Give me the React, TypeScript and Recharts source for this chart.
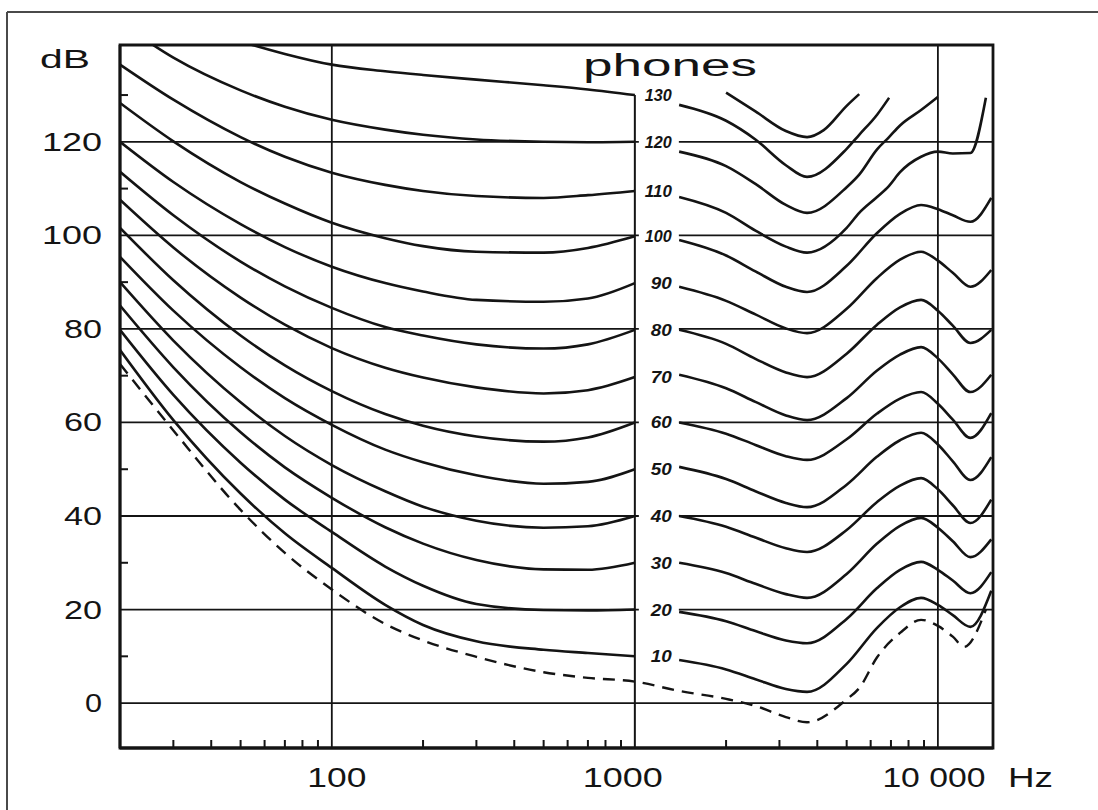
import React from "react";
import {
  LineChart,
  Line,
  XAxis,
  YAxis,
  CartesianGrid,
  ReferenceLine,
  ReferenceArea,
  LabelList,
} from "recharts";

const INK = "#141414";
const FONT = "'Liberation Sans', Arial, sans-serif";

// axes
const X_DOMAIN = [20, 15200];
const Y_DOMAIN = [-9.6, 140.7];
const X_TICKS = [
  30, 40, 50, 60, 70, 80, 90, 100, 200, 300, 400, 500, 600, 700, 800, 900, 1000,
  2000, 3000, 4000, 5000, 6000, 7000, 8000, 9000, 10000,
];
const X_LABELS: Record<number, string> = { 100: "100", 1000: "1000", 10000: "10 000" };
const Y_TICKS = [0, 10, 20, 30, 40, 50, 60, 70, 80, 90, 100, 110, 120, 130];
const GRID_DB = [0, 20, 40, 60, 80, 100, 120];
const GRID_HZ = [100, 10000];

// equal loudness contours, left part (20 Hz .. 1 kHz)
const LOW_FREQS = [20, 30, 50, 70, 100, 150, 200, 300, 500, 700, 1000];
const PHONS = [130, 120, 110, 100, 90, 80, 70, 60, 50, 40, 30, 20, 10];

const LOW_130 = [151.5, 147, 141.5, 138.8, 136.5, 135.1, 134.3, 133.3, 132.1, 131.2, 130];
const LOW_120 = [145.5, 138, 131, 127.5, 124.7, 122.6, 121.5, 120.5, 120, 119.9, 120];
const LOW_110 = [136.5, 129, 121, 116.8, 113.4, 110.8, 109.5, 108.4, 108, 108.6, 109.5];
const LOW_100 = [128.3, 120.1, 111.4, 106.8, 102.7, 99.4, 97.7, 96.5, 96.3, 97.3, 99.8];
const LOW_90 = [120, 111.4, 102.4, 97.5, 93.3, 89.8, 88, 86.2, 85.8, 86.5, 89.8];
const LOW_80 = [113.6, 104.3, 94.4, 89.1, 84.5, 80.4, 78.6, 76.7, 75.8, 76.7, 79.8];
const LOW_70 = [107.6, 97.4, 86.7, 80.9, 75.9, 71.7, 69.6, 67.5, 66.2, 66.9, 69.7];
const LOW_60 = [101.6, 90.4, 78.6, 72.2, 66.7, 61.8, 59.3, 57, 55.9, 56.8, 60];
const LOW_50 = [95.4, 83.9, 71.8, 65.2, 59.5, 54.2, 51.5, 48.7, 46.9, 47.3, 50];
const LOW_40 = [90, 77.5, 64.3, 57.1, 50.9, 45.3, 42, 39, 37.5, 37.8, 40];
const LOW_30 = [85, 71.8, 57.9, 50.4, 43.9, 37.6, 34.1, 30.6, 28.6, 28.5, 30];
const LOW_20 = [79.8, 65.9, 51.4, 43.5, 36.6, 29.2, 25.1, 21.2, 19.9, 19.8, 20];
const LOW_10 = [75.5, 60.5, 44.8, 36.3, 28.9, 21, 16.7, 13.2, 11.4, 10.7, 10];

// right part (1.4 kHz .. 15 kHz), after the phon labels
const HIGH_FREQS = [
  1400, 2000, 2500, 3150, 3700, 5000, 5500, 6300, 6900, 7500, 8800, 10000, 11200, 12800, 14400, 15000,
];
const HIGH_130 = [127.9, 124.5, 120.5, 115, 112.5, 118.5, 121.5, 125.8, 129.4, null, null, null, null, null, null, null];
const HIGH_120 = [117.9, 114.8, 111, 106.5, 104.8, 110.3, 113, 118.4, 121, 123.5, 126.8, 129.6, null, null, null, null];
const HIGH_110 = [108.2, 104.8, 101, 97.6, 96.3, 101.6, 104.8, 108.2, 110.6, 113.5, 116.8, 117.9, 117.5, 117.6, 129.4, null];
const HIGH_100 = [99, 95.7, 92.3, 89, 87.9, 93.5, null, 100.5, null, 104.6, 106.5, 105.6, 104.3, 102.9, null, 108];
const HIGH_90 = [89, 86, 83.1, 80.1, 79.1, 84.3, null, 90.9, null, 94.8, 96.5, 94.6, 92, 89, null, 92.6];
const HIGH_80 = [79.8, 76.8, 73.6, 70.7, 69.7, 74.7, null, 80.9, null, 84.6, 86.2, 83.9, 80.7, 77, null, 79.8];
const HIGH_70 = [70.2, 67.3, 64.4, 61.5, 60.5, 65.2, null, 71.1, null, 74.5, 76.1, 73.7, 70.3, 66.5, null, 70.2];
const HIGH_60 = [60, 57.6, 55.2, 52.8, 52, 56.4, null, 61.9, null, 65.1, 66.5, 64, 60.6, 56.7, null, 62];
const HIGH_50 = [50.5, 47.9, 45.3, 42.8, 41.9, 46.7, null, 52.7, null, 56.2, 57.8, 55.3, 51.7, 47.7, null, 52.6];
const HIGH_40 = [40, 37.7, 35.4, 33.1, 32.3, 37, null, 43, null, 46.5, 48.1, 45.7, 42.3, 38.5, null, 43.5];
const HIGH_30 = [30, 27.8, 25.5, 23.3, 22.5, 27.6, null, 34.1, null, 37.9, 39.6, 37.5, 34.6, 31.2, null, 35];
const HIGH_20 = [19.5, 17.5, 15.4, 13.4, 12.8, 18, null, 24.6, null, 28.5, 30.2, 28.5, 26.2, 23.5, null, 28];
const HIGH_10 = [9.2, 7.2, 5.1, 3.0, 2.4, 8.4, null, 16.1, null, 20.5, 22.5, 21, 18.8, 16.3, null, 24];

// unlabeled partial curve at the top right
const TOP_FREQS = [2000, 2500, 3150, 3700, 4200, 5000, 5500];
const TOP_DB = [130.5, 126.5, 122.3, 121, 122.5, 127.7, 130.2];

// threshold of hearing (dashed)
const THRESHOLD_FREQS = [
  20, 30, 50, 70, 100, 150, 200, 300, 500, 700, 1000, 1400, 2000, 2500, 3150, 3700, 5000,
  5500, 6300, 7500, 8800, 10000, 11200, 12200, 14400,
];
const THRESHOLD_DB = [
  72.5, 58.3, 41.3, 32.1, 24.3, 16.9, 13.4, 9.9, 6.6, 5.4, 4.6, 2.6, 0.9, -0.6, -3.0, -4.1, 0.8,
  3.2, 9.8, 15, 17.8, 16.5, 14.2, 12, 20,
];

const LOW_SERIES = [LOW_130, LOW_120, LOW_110, LOW_100, LOW_90, LOW_80, LOW_70, LOW_60, LOW_50, LOW_40, LOW_30, LOW_20, LOW_10];
const HIGH_SERIES = [HIGH_130, HIGH_120, HIGH_110, HIGH_100, HIGH_90, HIGH_80, HIGH_70, HIGH_60, HIGH_50, HIGH_40, HIGH_30, HIGH_20, HIGH_10];

const toPoints = (freqs: number[], dbs: (number | null)[]) =>
  freqs.map((f, i) => ({ f, db: dbs[i] }));

const XTick = (props: any) => {
  const { x, y, payload } = props;
  const label = X_LABELS[payload.value];
  if (!label) {
    return <line x1={x} x2={x} y1={y} y2={y - 8} stroke={INK} strokeWidth={2} />;
  }
  const w = label.length === 3 ? 59 : label.length === 4 ? 80 : 103;
  const nudge = payload.value === 100 ? 5 : payload.value === 1000 ? -12 : -4;
  return (
    <text
      x={x + nudge - w / 2}
      y={y + 39}
      textLength={w}
      lengthAdjust="spacingAndGlyphs"
      fontSize={27}
      fontFamily={FONT}
      fill={INK}
    >
      {label}
    </text>
  );
};

const YTick = (props: any) => {
  const { x, y, payload } = props;
  const v = payload.value;
  if (v % 20 !== 0) {
    return <line x1={x} x2={x + 8} y1={y} y2={y} stroke={INK} strokeWidth={2} />;
  }
  const s = String(v);
  const w = [0, 17, 38, 60][s.length];
  return (
    <text
      x={x - 18 - w}
      y={y + 9}
      textLength={w}
      lengthAdjust="spacingAndGlyphs"
      fontSize={25}
      fontFamily={FONT}
      fill={INK}
    >
      {s}
    </text>
  );
};

// phon number written just right of the 1000 Hz end of each curve
const renderPhonLabel = (props: any, phon: number) => {
  const { index } = props;
  if (index !== LOW_FREQS.length - 1) return null;
  const x = props.x ?? props.viewBox?.x;
  const y = props.y ?? props.viewBox?.y;
  const s = String(phon);
  const w = s.length === 3 ? 27 : 21;
  return (
    <g>
      <rect x={x + 4} y={y - 9} width={40} height={18} fill="#fff" />
      <text
        x={x + 37 - w}
        y={y + 6}
        textLength={w}
        lengthAdjust="spacingAndGlyphs"
        fontSize={16}
        fontStyle="italic"
        fontWeight="bold"
        fontFamily={FONT}
        fill={INK}
      >
        {s}
      </text>
    </g>
  );
};

export default function App() {
  return (
    <div style={{ position: "absolute", left: 0, top: 0, width: 1098, height: 810, background: "#fff" }}>
      <LineChart width={1098} height={810} margin={{ top: 45, right: 105, bottom: 22, left: 60 }}>
        <CartesianGrid
          horizontalValues={GRID_DB}
          verticalValues={GRID_HZ}
          stroke={INK}
          strokeWidth={1.8}
        />
        <XAxis
          dataKey="f"
          type="number"
          scale="log"
          domain={X_DOMAIN}
          allowDataOverflow
          ticks={X_TICKS}
          interval={0}
          height={40}
          tickSize={0}
          tickMargin={0}
          tickLine={false}
          tick={<XTick />}
          axisLine={{ stroke: INK, strokeWidth: 2.8 }}
        />
        <YAxis
          type="number"
          domain={Y_DOMAIN}
          allowDataOverflow
          ticks={Y_TICKS}
          interval={0}
          width={60}
          tickSize={0}
          tickMargin={0}
          tickLine={false}
          tick={<YTick />}
          axisLine={{ stroke: INK, strokeWidth: 2.8 }}
        />
        <ReferenceArea
          x1={X_DOMAIN[0]}
          x2={X_DOMAIN[1]}
          y1={Y_DOMAIN[0]}
          y2={Y_DOMAIN[1]}
          fill="none"
          fillOpacity={0}
          stroke={INK}
          strokeWidth={2.8}
        />
        <ReferenceLine
          segment={[
            { x: 1000, y: Y_DOMAIN[0] },
            { x: 1000, y: 130 },
          ]}
          stroke={INK}
          strokeWidth={2}
        />
        {PHONS.map((phon, i) => (
          <Line
            key={`low-${phon}`}
            data={toPoints(LOW_FREQS, LOW_SERIES[i])}
            dataKey="db"
            type="monotone"
            stroke={INK}
            strokeWidth={2.6}
            dot={false}
            isAnimationActive={false}
            connectNulls
          >
            <LabelList dataKey="db" content={(p: any) => renderPhonLabel(p, phon)} />
          </Line>
        ))}
        {PHONS.map((phon, i) => (
          <Line
            key={`high-${phon}`}
            data={toPoints(HIGH_FREQS, HIGH_SERIES[i])}
            dataKey="db"
            type="monotone"
            stroke={INK}
            strokeWidth={2.6}
            dot={false}
            isAnimationActive={false}
            connectNulls
          />
        ))}
        <Line
          data={toPoints(TOP_FREQS, TOP_DB)}
          dataKey="db"
          type="monotone"
          stroke={INK}
          strokeWidth={2.6}
          dot={false}
          isAnimationActive={false}
        />
        <Line
          data={toPoints(THRESHOLD_FREQS, THRESHOLD_DB)}
          dataKey="db"
          type="monotone"
          stroke={INK}
          strokeWidth={2.4}
          strokeDasharray="12 8"
          dot={false}
          isAnimationActive={false}
        />
      </LineChart>
      <svg
        width={1098}
        height={810}
        style={{ position: "absolute", left: 0, top: 0, pointerEvents: "none" }}
      >
        <line x1={7} y1={12} x2={1098} y2={12} stroke="#4a4a4a" strokeWidth={2} />
        <line x1={7} y1={12} x2={7} y2={810} stroke="#4a4a4a" strokeWidth={2} />
        <text x={40} y={68} textLength={50} lengthAdjust="spacingAndGlyphs" fontSize={25} fontFamily={FONT} fill={INK}>
          dB
        </text>
        <text x={583} y={76} textLength={174} lengthAdjust="spacingAndGlyphs" fontSize={31} fontFamily={FONT} fill={INK}>
          phones
        </text>
        <text x={1008} y={787} textLength={45} lengthAdjust="spacingAndGlyphs" fontSize={27} fontFamily={FONT} fill={INK}>
          Hz
        </text>
      </svg>
    </div>
  );
}
